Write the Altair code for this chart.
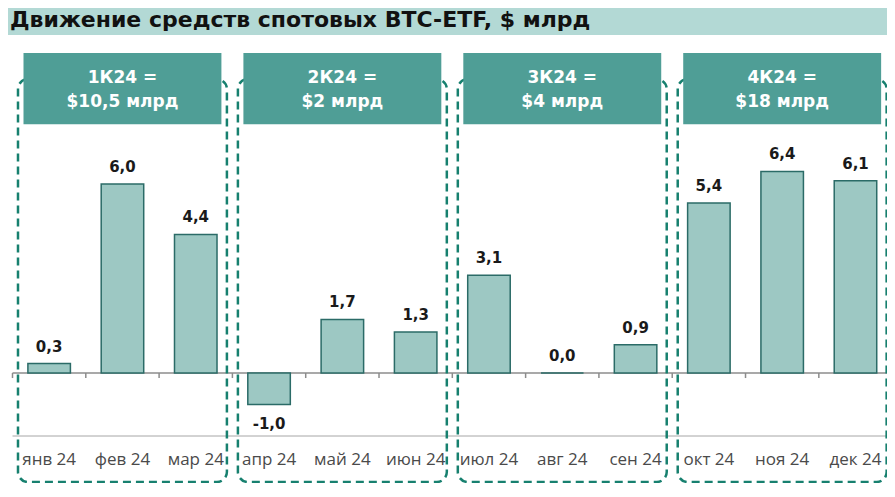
import altair as alt
import pandas as pd

# ---- data ----
months = ["янв 24", "фев 24", "мар 24", "апр 24", "май 24", "июн 24",
          "июл 24", "авг 24", "сен 24", "окт 24", "ноя 24", "дек 24"]
values = [0.3, 6.0, 4.4, -1.0, 1.7, 1.3, 3.1, 0.0, 0.9, 5.4, 6.4, 6.1]
q_line1 = ["1К24 =", "2К24 =", "3К24 =", "4К24 ="]
q_line2 = ["$10,5 млрд", "$2 млрд", "$4 млрд", "$18 млрд"]
title_text = "Движение средств спотовых BTC-ETF, $ млрд"

# ---- styling ----
BAR_FILL = "#9dc8c3"
BAR_STROKE = "#2b6b67"
DASH = "#17806f"
BOX = "#4f9e96"
BAND = "#b3d9d5"

XMAX = 11.93
YMIN, YMAX = -3.492, 11.587
xs = alt.Scale(domain=[0, XMAX], nice=False, zero=False)
ys = alt.Scale(domain=[YMIN, YMAX], nice=False, zero=False)

def X(f="x"):
    return alt.X(f"{f}:Q", scale=xs, axis=None)

def Y(f="y"):
    return alt.Y(f"{f}:Q", scale=ys, axis=None)

# tables
bars = pd.DataFrame({
    "month": months,
    "value": values,
    "x": [i + 0.21 for i in range(12)],
    "x2": [i + 0.79 for i in range(12)],
    "xc": [i + 0.5 for i in range(12)],
    "zero": [0.0] * 12,
    "label": [f"{v:.1f}".replace(".", ",") for v in values],
    "ml": [-2.76] * 12,
})

quarters = pd.DataFrame({
    "l1": q_line1,
    "l2": q_line2,
    "xc": [q * 3 + 1.5 for q in range(4)],
    "bx": [q * 3 + 0.15 for q in range(4)],
    "bx2": [q * 3 + 2.85 for q in range(4)],
    "dx": [q * 3 + 0.075 for q in range(4)],
    "dx2": [q * 3 + 2.925 for q in range(4)],
    "by": [7.90] * 4,
    "by2": [10.16] * 4,
    "dy": [-3.46] * 4,
    "dy2": [9.33] * 4,
    "t1": [9.37] * 4,
    "t2": [8.6] * 4,
})

band = pd.DataFrame({"x": [-0.07], "x2": [12.2], "y": [10.73], "y2": [11.8],
                     "tx": [-0.034], "ty": [11.2], "t": [title_text]})
lines = pd.DataFrame({"x": [0.0, 0.0], "x2": [12.2, 12.2], "y": [0.0, -2.0],
                      "kind": ["zero", "bottom"]})
ticks = pd.DataFrame({"x": list(range(13)), "y": [0.0] * 13, "y2": [-0.16] * 13})

band_layer = alt.Chart(band).mark_rect(fill=BAND).encode(
    x=X(), x2="x2", y=Y(), y2="y2")
title_layer = alt.Chart(band).mark_text(
    align="left", baseline="middle", font="DejaVu Sans", fontWeight="bold",
    fontSize=22, color="#111111").encode(x=X("tx"), y=Y("ty"), text="t")

bottom_line = alt.Chart(lines).transform_filter("datum.kind == 'bottom'").mark_rule(
    color="#a6a6a6", strokeWidth=1).encode(x=X(), x2="x2", y=Y())
zero_line = alt.Chart(lines).transform_filter("datum.kind == 'zero'").mark_rule(
    color="#8c8c8c", strokeWidth=1.5).encode(x=X(), x2="x2", y=Y())
tick_layer = alt.Chart(ticks).mark_rule(color="#8c8c8c", strokeWidth=1.5).encode(
    x=X(), y=Y(), y2="y2")

bar_layer = alt.Chart(bars).mark_rect(
    fill=BAR_FILL, stroke=BAR_STROKE, strokeWidth=1.5).encode(
    x=X(), x2="x2", y=Y("zero"), y2="value")

pos_labels = alt.Chart(bars).transform_filter("datum.value >= 0").mark_text(
    baseline="alphabetic", dy=-12, font="DejaVu Sans", fontWeight="bold",
    fontSize=15, color="#1a1a1a").encode(x=X("xc"), y=Y("value"), text="label")
neg_labels = alt.Chart(bars).transform_filter("datum.value < 0").mark_text(
    baseline="alphabetic", dy=24, font="DejaVu Sans", fontWeight="bold",
    fontSize=15, color="#1a1a1a").encode(x=X("xc"), y=Y("value"), text="label")

month_labels = alt.Chart(bars).mark_text(
    baseline="middle", font="Open Sans", fontSize=17, color="#4a4a4a").encode(
    x=X("xc"), y=Y("ml"), text="month")

dashed = alt.Chart(quarters).mark_rect(
    fillOpacity=0, stroke=DASH, strokeWidth=2.5, strokeDash=[8, 5],
    cornerRadius=10).encode(x=X("dx"), x2="dx2", y=Y("dy"), y2="dy2")

boxes = alt.Chart(quarters).mark_rect(fill=BOX).encode(
    x=X("bx"), x2="bx2", y=Y("by"), y2="by2")
box_t1 = alt.Chart(quarters).mark_text(
    baseline="middle", font="DejaVu Sans", fontWeight="bold", fontSize=17,
    color="white").encode(x=X("xc"), y=Y("t1"), text="l1")
box_t2 = alt.Chart(quarters).mark_text(
    baseline="middle", font="DejaVu Sans", fontWeight="bold", fontSize=17,
    color="white").encode(x=X("xc"), y=Y("t2"), text="l2")

chart = alt.layer(
    band_layer, title_layer, bottom_line, zero_line, tick_layer, bar_layer,
    pos_labels, neg_labels, month_labels, dashed, boxes, box_t1, box_t2
).properties(
    width=874.5, height=475,
    padding={"left": 4.5, "top": 0, "right": 0, "bottom": 0},
    autosize=alt.AutoSizeParams(type="none"),
).configure_view(stroke=None)

chart.save("out.html", embed_options={"renderer": "svg", "actions": False})
